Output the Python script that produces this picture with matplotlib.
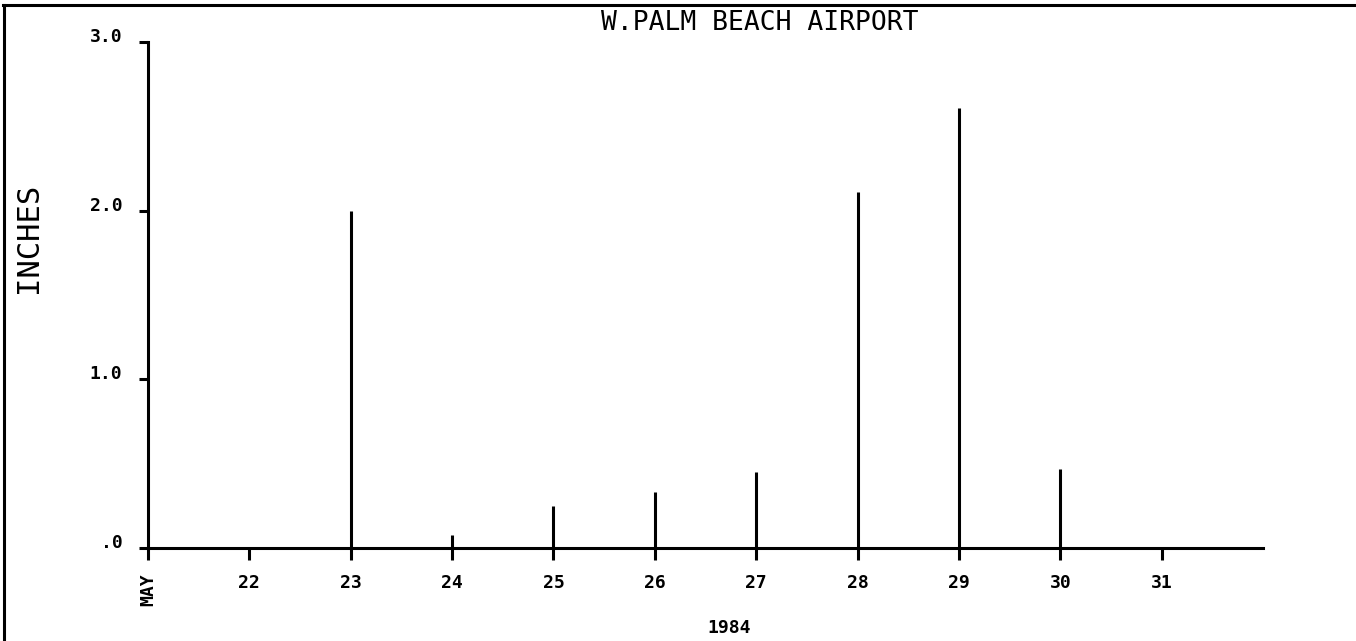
"""
Daily rainfall at W. Palm Beach Airport, May 1984 (plotter-style stick chart).
"""
import matplotlib
matplotlib.use('Agg')
import matplotlib.pyplot as plt
from matplotlib.lines import Line2D

# daily rainfall [inch]
days = [21, 22, 23, 24, 25, 26, 27, 28, 29, 30, 31]
rain = [0.0, 0.0, 2.0, 0.08, 0.25, 0.33, 0.45, 2.11, 2.61, 0.47, 0.0]
xtick_days = [21, 22, 23, 24, 25, 26, 27, 28, 29, 30, 31]
xtick_labels = ['MAY', '22', '23', '24', '25', '26', '27', '28', '29', '30', '31']
ytick_vals = [0.0, 1.0, 2.0, 3.0]
ytick_labels = ['.0', '1.0', '2.0', '3.0']

mono = 'DejaVu Sans Mono'
plt.rcParams['font.family'] = mono

fig = plt.figure(figsize=(13.56, 6.41), dpi=100)
ax = fig.add_axes([148/1356, 1 - 548/641, (1263 - 148)/1356, (548 - 42)/641])

ax.vlines(days, 0, rain, colors='black', linewidth=2.2)

ax.set_xlim(21, 32)
ax.set_ylim(0, 3.0)
for s in ['top', 'right']:
    ax.spines[s].set_visible(False)
for s in ['left', 'bottom']:
    ax.spines[s].set_linewidth(2.2)
    ax.spines[s].set_color('black')

ax.set_xticks(xtick_days)
ax.set_xticklabels(xtick_labels, fontsize=13, fontweight='bold', family=mono)
ax.set_yticks(ytick_vals)
ax.set_yticklabels(ytick_labels, fontsize=13, fontweight='bold', family=mono)
ax.tick_params(axis='x', direction='out', length=8.5, width=2.2, pad=10)
ax.tick_params(axis='y', direction='out', length=6.5, width=2.2, pad=12)
for lab in ax.get_yticklabels():
    lab.set_verticalalignment('baseline')
first = ax.get_xticklabels()[0]
first.set_rotation(90)
first.set_fontsize(13)

fig.text(760/1356, 1 - 23/641, 'W.PALM BEACH AIRPORT', ha='center', va='center',
         fontsize=19, family=mono)
fig.text(28/1356, 1 - 238/641, 'INCHES', ha='center', va='center',
         rotation=90, fontsize=22, family=mono)
fig.text(729/1356, 1 - 628/641, '1984', ha='center', va='center',
         fontsize=13, fontweight='bold', family=mono)

# frame lines along the top and left edge of the sheet
fig.add_artist(Line2D([3/1356, 1.0], [1 - 5/641, 1 - 5/641],
                      transform=fig.transFigure, color='black', linewidth=2.2))
fig.add_artist(Line2D([4/1356, 4/1356], [0.0, 1 - 5/641],
                      transform=fig.transFigure, color='black', linewidth=2.2))

plt.savefig('out.png', dpi=100, facecolor='white')
